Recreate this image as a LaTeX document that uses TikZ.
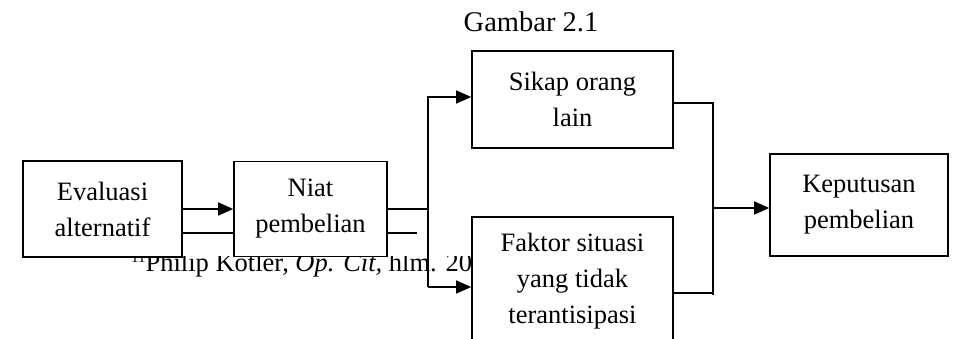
\documentclass[tikz,border=0pt]{standalone}
\usepackage{fontspec}
\setmainfont{Liberation Serif}
\usetikzlibrary{arrows.meta}
\begin{document}
\begin{tikzpicture}[x=1pt,y=-1pt,
  txt/.style={font=\fontsize{26.5}{36}\selectfont},
  box/.style={draw, line width=1.6pt, fill=white, inner sep=0pt, align=center, txt},
  conn/.style={line width=1.6pt},
  arr/.style={-{Triangle[length=15pt,width=13pt]}}]
\useasboundingbox (0,0) rectangle (954,339);
\clip (0,0) rectangle (954,339);

% title
\node[anchor=base, inner sep=0pt, font=\fontsize{28.5}{30}\selectfont] (g) at (531,32) {Gambar 2.1};

% footnote (partly hidden by the boxes)
\begin{scope}
  \clip (0,257) rectangle (472,339);
  \node[anchor=base west, inner sep=0pt, txt] (fn) at (131,272)
    {{\fontsize{15}{15}\selectfont\raisebox{9pt}{11}}Philip Kotler, \textit{Op. Cit,} hlm. 20};
\end{scope}

% boxes
\node[box, minimum width=159pt, minimum height=96pt] (b1) at (102.5,209) {Evaluasi\\alternatif};
\node[box, minimum width=153pt, minimum height=95pt] (b2) at (310.5,209) {Niat\\pembelian};
\node[box, minimum width=201pt, minimum height=97pt] (s) at (572.5,99.5) {Sikap orang\\lain};
\node[box, minimum width=201pt, minimum height=128pt] (f) at (572.5,281) {Faktor situasi\\yang tidak\\terantisipasi};
\node[box, minimum width=178pt, minimum height=102pt] (k) at (859,205) {Keputusan\\pembelian};

% junction coordinates
\coordinate (jl) at (428,209);
\coordinate (jt) at (428,97);
\coordinate (jb) at (428,287);
\coordinate (stub) at (417,233);
\coordinate (rt) at (713,103);
\coordinate (rb) at (713,293);
\coordinate (rm) at (713,208);
\coordinate (rend) at (713,295);

% connectors
\draw[conn,arr] (b1.east) -- (b2.west);
\draw[conn] (b1.east |- stub) -- (b2.west |- stub);
\draw[conn] (b2.east |- stub) -- (stub);
\draw[conn] (b2.east) -- (jl);
\draw[conn,arr] (jb) -- (jt) -- (s.west |- jt);
\draw[conn,arr] (jb) -- (f.west |- jb);
\draw[conn] (s.east |- rt) -- (rt) -- (rend);
\draw[conn] (f.east |- rb) -- (rb);
\draw[conn,arr] (rm) -- (k.west |- rm);
\end{tikzpicture}
\end{document}
